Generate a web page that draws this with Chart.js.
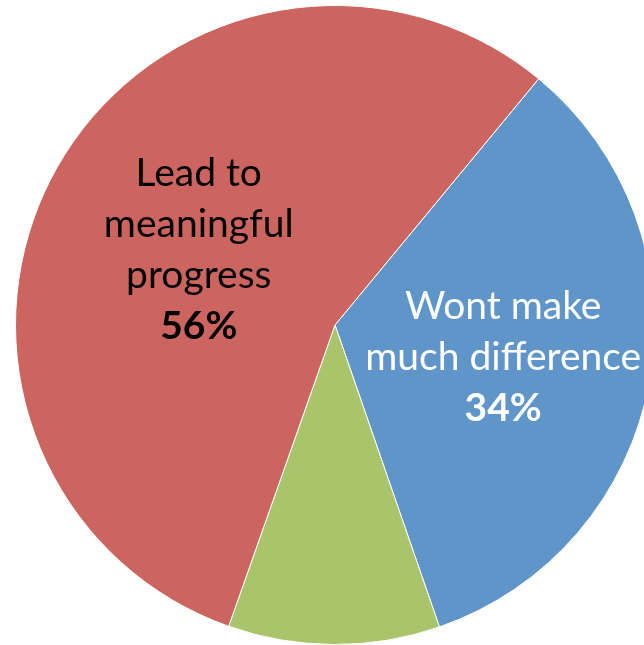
<!DOCTYPE html>
<html>
<head>
<meta charset="utf-8">
<script src="https://cdn.jsdelivr.net/npm/chart.js@4/dist/chart.umd.min.js"></script>
<style>
	html, body { margin: 0; padding: 0; background: #fff; overflow: hidden; }
	#wrap { position: absolute; left: 15px; top: 5px; width: 640px; height: 640px; }
</style>
</head>
<body>
<div id="wrap"><canvas id="myChart"></canvas></div>
<script>
(() => {
	"use strict";

	const categories = ["Wont make much difference", "Other", "Lead to meaningful progress"];
	const values = [33.7, 10.7, 55.6];
	const colors = ["#5F95C8", "#AAC46B", "#CC655F"];
	// text shown in slice (empty = no label)
	const labelLines = [["Wont make", "much difference"], [], ["Lead to", "meaningful", "progress"]];
	const labelColors = ["#FFFFFF", "#000000", "#000000"];
	const labelDist = [0.535, 0, 0.49];

	const sliceLabels = {
		id: "sliceLabels",
		afterDatasetsDraw(chart) {
			const c = chart.ctx;
			const arcs = chart.getDatasetMeta(0).data;
			const total = values.reduce((a, b) => a + b, 0);
			const fontSize = 39;
			const lh = 51;
			arcs.forEach((arc, i) => {
				if (!labelLines[i].length) return;
				const p = arc.getProps(["x", "y", "startAngle", "endAngle", "outerRadius"], true);
				const mid = (p.startAngle + p.endAngle) / 2;
				const cx = p.x + Math.cos(mid) * p.outerRadius * labelDist[i];
				const cy = p.y + Math.sin(mid) * p.outerRadius * labelDist[i] + 2;
				const lines = labelLines[i].concat([Math.round(values[i] / total * 100) + "%"]);
				const top = cy - (lines.length - 1) * lh / 2;
				c.save();
				c.fillStyle = labelColors[i];
				c.textAlign = "center";
				c.textBaseline = "middle";
				lines.forEach((t, j) => {
					const last = j === lines.length - 1;
					c.font = (last ? "bold " : "") + fontSize + "px Lato, 'Open Sans', sans-serif";
					c.fillText(t, cx, top + j * lh);
				});
				c.restore();
			});
		},
	};

	const ctx = document.getElementById("myChart");
	// eslint-disable-next-line no-unused-vars
	const myChart = new Chart(ctx, {
		type: "pie",
		data: {
			labels: categories,
			datasets: [
				{
					data: values,
					backgroundColor: colors,
					borderColor: "#FFFFFF",
					borderWidth: 1,
				},
			],
		},
		options: {
			responsive: true,
			maintainAspectRatio: false,
			animation: false,
			rotation: 39.6,
			layout: { padding: 0 },
			plugins: {
				legend: { display: false },
				tooltip: { enabled: false },
			},
		},
		plugins: [sliceLabels],
	});
})();
</script>
</body>
</html>
